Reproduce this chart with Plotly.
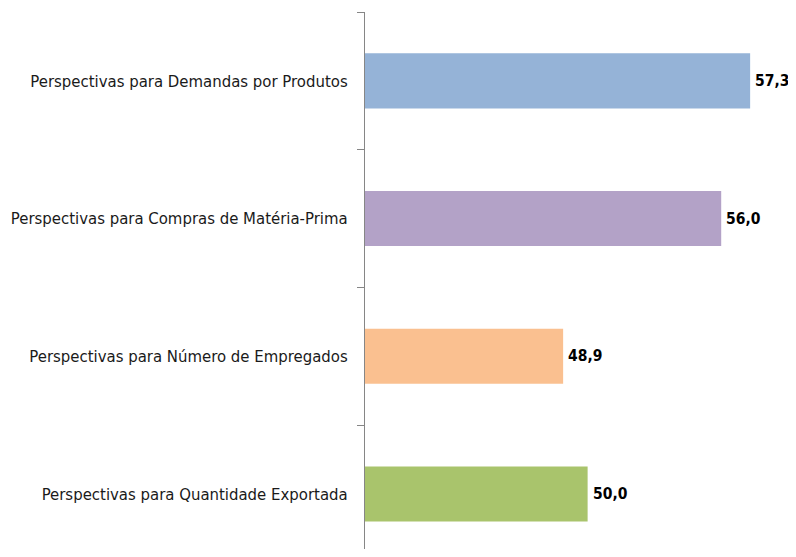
import plotly.graph_objects as go

categories = [
    "Perspectivas para Demandas por Produtos",
    "Perspectivas para Compras de Matéria-Prima",
    "Perspectivas para Número de Empregados",
    "Perspectivas para Quantidade Exportada",
]
values = [57.3, 56.0, 48.9, 50.0]
colors = ["#95B3D7", "#B3A2C7", "#FAC090", "#A9C46C"]
value_labels = [f"{v:.1f}".replace(".", ",") for v in values]

FONT = "DejaVu Sans Condensed, sans-serif"

fig = go.Figure()
fig.add_trace(go.Bar(
    y=categories,
    x=values,
    orientation="h",
    marker=dict(color=colors, line=dict(width=0)),
    width=0.4,
    base=0,
    hoverinfo="skip",
    cliponaxis=False,
))

for c, v, t in zip(categories, values, value_labels):
    fig.add_annotation(
        x=v, y=c, text=f"<b>{t}</b>", showarrow=False,
        xanchor="left", yanchor="middle", xshift=3,
        font=dict(family=FONT, size=15.5, color="#000000"),
    )

# page body has an 8px default margin; compensate so the figure fits the window
fig.update_layout(
    width=788, height=541,
    margin=dict(l=357, r=0, t=4, b=0, autoexpand=False),
    paper_bgcolor="white", plot_bgcolor="white",
    showlegend=False,
    font=dict(family=FONT, size=16.6, color="#1a1a1a"),
    xaxis=dict(range=[40, 59.36], visible=False, showgrid=False,
               zeroline=False, automargin=False),
    yaxis=dict(
        type="category",
        range=[3.4, -0.5],
        automargin=False,
        showline=True, linecolor="#868686", linewidth=1,
        ticks="outside", tickson="boundaries", ticklen=7, tickcolor="#868686",
        ticklabelstandoff=13,
        showgrid=False, zeroline=False,
        tickfont=dict(family=FONT, size=16.6, color="#1a1a1a"),
    ),
)

fig.write_html("out.html")
